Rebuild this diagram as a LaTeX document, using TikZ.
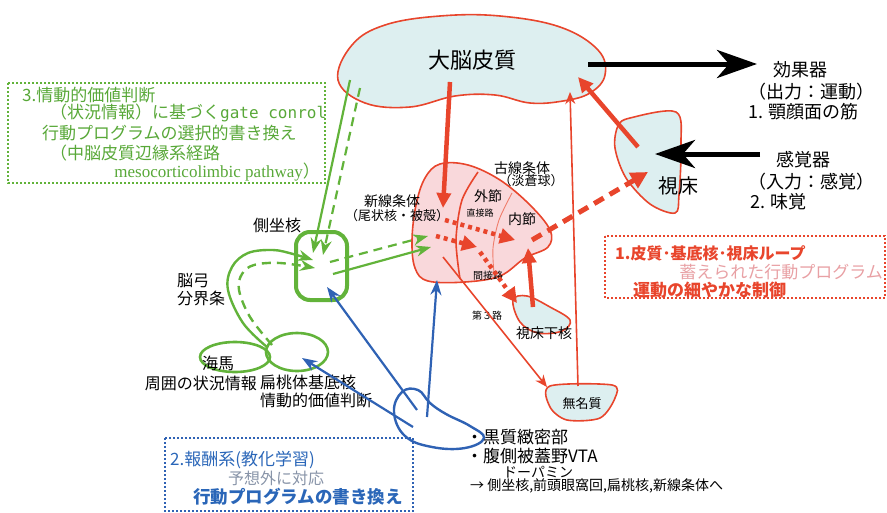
\documentclass[tikz,border=0pt]{standalone}
\usepackage{fontspec}
\setmainfont{Noto Sans CJK JP}
\newfontfamily\latinserif{Liberation Serif}
\setmonofont{DejaVu Sans Mono}
\usetikzlibrary{arrows.meta}
\definecolor{redc}{HTML}{E8452C}
\definecolor{palered}{HTML}{E8A0A4}
\definecolor{greenc}{HTML}{62B33A}
\definecolor{greentxt}{HTML}{58A838}
\definecolor{bluec}{HTML}{2F62B4}
\definecolor{bluetxt}{HTML}{2A66B8}
\definecolor{grayblue}{HTML}{8894A8}
\definecolor{paleblue}{HTML}{DDEFF0}
\definecolor{palepink}{HTML}{F9D8DB}
\newcommand{\fsz}[1]{\fontsize{#1}{#1}\selectfont}

\begin{document}
\begin{tikzpicture}[x=1pt,y=-1pt,
  lbl/.style={inner sep=0pt},
  blob/.style={draw=redc,line width=1.6pt,fill=paleblue},
  bigarrow/.style={line width=5pt,-{Stealth[length=40pt,width=28pt,inset=12pt]}},
  redthick/.style={redc,line width=4.5pt,-{Triangle[length=15pt,width=14pt]}},
  redthin/.style={redc,line width=1.6pt,-{Stealth[length=12pt,width=10pt]}},
  reddots/.style={redc,line width=4.5pt,dash pattern=on 4pt off 4pt,-{Triangle[length=15pt,width=15pt]}},
  reddash/.style={redc,line width=5pt,dash pattern=on 11pt off 7pt,-{Triangle[length=17pt,width=17pt]}},
  greenarrow/.style={greenc,line width=2.2pt,-{Stealth[length=15pt,width=11pt]}},
  greendash/.style={greenarrow,dash pattern=on 9pt off 6pt},
  bluearrow/.style={bluec,line width=2.2pt,-{Stealth[length=15pt,width=11pt]}},
  dotbox/.style={line width=2pt,dash pattern=on 2pt off 2pt}]
\useasboundingbox (0,0) rectangle (887,512);

% cortex, thalamus and the other red outlined bodies
\draw[blob] plot[smooth cycle,tension=0.65] coordinates {(338,80) (352,45) (385,25) (440,16) (500,16) (560,27) (598,50) (605,75) (590,93) (563,101) (530,103) (495,95) (455,96) (410,107) (365,103)};
\draw[blob] plot[smooth cycle,tension=0.55] coordinates {(630,118) (676,112) (681,145) (679,195) (675,213) (650,204) (626,178) (615,148) (618,126)};
\draw[blob] plot[smooth cycle,tension=0.6] coordinates {(513,300) (527,296) (550,307) (570,320) (562,331) (538,333) (520,322)};
\draw[blob] plot[smooth cycle,tension=0.5] coordinates {(550,386) (612,385) (615,398) (600,418) (567,420) (550,407)};
\draw[blob,fill=palepink] plot[smooth cycle,tension=0.6] coordinates {(440,164) (468,165) (500,180) (530,205) (550,230) (548,247) (525,258) (500,276) (465,282) (428,281) (415,268) (412,240) (416,205) (425,178)};
\draw[redc,line width=1.6pt] plot[smooth] coordinates {(478,172) (462,200) (456,240) (460,279)};
\draw[redc!70,line width=0.9pt] plot[smooth] coordinates {(512,193) (499,220) (493,248) (494,273)};

% green bodies
\draw[greenc,line width=4pt,rounded corners=14pt] (296,232) rectangle (347,300);
\draw[greenc,line width=2.6pt] (235,357) ellipse [x radius=35,y radius=15];
\draw[greenc,line width=2.6pt] (297,352) ellipse [x radius=31,y radius=19];

% blue loop
\draw[bluec,line width=2.4pt] plot[smooth cycle,tension=0.7] coordinates {(484,438) (465,448) (432,447) (405,436) (394,412) (402,392) (418,390) (430,403) (446,414) (470,426)};

% labels
\node[lbl] (cortex) at (472,60) {\fsz{22}大脳皮質};
\node[lbl] (thal) at (678,186) {\fsz{20}視床};
\node[lbl] (neo) at (392,201) {\fsz{14}新線条体};
\node[lbl] (neo2) at (397,216) {\fsz{13}（尾状核・被殻）};
\node[lbl] (paleo) at (522,168) {\fsz{14}古線条体};
\node[lbl] (paleo2) at (531,181) {\fsz{13}（淡蒼球）};
\node[lbl] (gpe) at (488,196) {\fsz{14}外節};
\node[lbl] (gpi) at (522,219) {\fsz{14}内節};
\node[lbl] (direct) at (480,213) {\fsz{9}直接路};
\node[lbl] (indirect) at (488,276) {\fsz{10}間接路};
\node[lbl] (third) at (487,316) {\fsz{10}第３路};
\node[lbl] (stn) at (544,333) {\fsz{14}視床下核};
\node[lbl] (innom) at (582,404) {\fsz{13}無名質};
\node[lbl] (acc) at (277,225) {\fsz{16}側坐核};
\node[lbl,anchor=west] (fornix) at (177,281) {\fsz{16}脳弓};
\node[lbl,anchor=west] (stria) at (177,298) {\fsz{16}分界条};
\node[lbl] (hippo) at (218,363) {\fsz{16}海馬};
\node[lbl,anchor=east] (hippo2) at (257,383) {\fsz{16}周囲の状況情報};
\node[lbl,anchor=west] (amyg) at (260,382) {\fsz{16}扁桃体基底核};
\node[lbl,anchor=west] (amyg2) at (260,400) {\fsz{16}情動的価値判断};

\node[lbl] (eff) at (800,70) {\fsz{18}効果器};
\node[lbl,anchor=west] (eff2) at (748,92) {\fsz{18}（出力：運動）};
\node[lbl,anchor=west] (eff3) at (748,112) {\fsz{18}1. 顎顔面の筋};
\node[lbl] (sens) at (803,160) {\fsz{18}感覚器};
\node[lbl,anchor=west] (sens2) at (748,182) {\fsz{18}（入力：感覚）};
\node[lbl,anchor=west] (sens3) at (750,202) {\fsz{18}2. 味覚};

\node[lbl,anchor=west] (vta1) at (466,437) {\fsz{17}・黒質緻密部};
\node[lbl,anchor=west] (vta2) at (466,456) {\fsz{17}・腹側被蓋野VTA};
\node[lbl,anchor=west] (da) at (503,472) {\fsz{14}ドーパミン};
\node[lbl,anchor=west] (proj) at (470,486) {\fsz{14}→ 側坐核,前頭眼窩回,扁桃核,新線条体へ};

% boxes
\draw[dotbox,greenc] (8,83) rectangle (325,183);
\node[lbl,anchor=west,text=greentxt] (g1) at (22,95) {\fsz{17}3.情動的価値判断};
\node[lbl,anchor=west,text=greentxt] (g2) at (50,113) {\fsz{17}（状況情報）に基づく\ttfamily\fsz{16}gate conrol};
\node[lbl,anchor=west,text=greentxt] (g3) at (42,133) {\fsz{17}行動プログラムの選択的書き換え};
\node[lbl,anchor=west,text=greentxt] (g4) at (50,153) {\fsz{17}（中脳皮質辺縁系経路};
\node[lbl,anchor=east,text=greentxt] (g5) at (320,172) {\latinserif\fsz{17}mesocorticolimbic pathway\normalfont）};

\draw[dotbox,redc] (605,236) rectangle (885,298);
\node[lbl,anchor=west,text=redc] (r1) at (615,253) {\fsz{16}\bfseries 1.皮質･基底核･視床ループ};
\node[lbl,anchor=east,text=palered] (r2) at (883,272) {\fsz{17}蓄えられた行動プログラム};
\node[lbl,anchor=west,text=redc] (r3) at (633,290) {\fsz{17}\bfseries 運動の細やかな制御};

\draw[dotbox,bluec] (165,438) rectangle (413,511);
\node[lbl,anchor=west,text=bluetxt] (b1) at (170,460) {\fsz{17}2.報酬系(教化学習)};
\node[lbl,anchor=west,text=grayblue] (b2) at (228,478) {\fsz{16}予想外に対応};
\node[lbl,anchor=west,text=bluetxt] (b3) at (193,497) {\fsz{17.5}\bfseries 行動プログラムの書き換え};

% connector ends
\coordinate (ctxR) at (588,64);
\coordinate (effL) at (757,64);
\coordinate (sensR) at (760,154);
\coordinate (thalL) at (655,154);
\coordinate (thalU) at (638,147);
\coordinate (ctxRB) at (578,77);
\coordinate (innomT) at (578,386);
\coordinate (ctxB) at (570,92);
\coordinate (ctxD) at (450,82);
\coordinate (strU) at (443,208);
\coordinate (strL) at (445,220);
\coordinate (gpiL) at (515,240);
\coordinate (strL2) at (436,236);
\coordinate (gpeL) at (477,247);
\coordinate (gpeB) at (480,252);
\coordinate (stnT) at (517,303);
\coordinate (stnU) at (533,307);
\coordinate (gpiB) at (528,248);
\coordinate (gpiR) at (532,240);
\coordinate (thalB) at (648,172);
\coordinate (strB) at (443,257);
\coordinate (innomL) at (547,387);
\coordinate (ctxG1) at (350,80);
\coordinate (accG1) at (313,253);
\coordinate (ctxG2) at (360,88);
\coordinate (accG2) at (323,255);
\coordinate (accR1) at (330,262);
\coordinate (strG1) at (428,236);
\coordinate (accR2) at (333,274);
\coordinate (strG2) at (431,247);
\coordinate (vtaA) at (417,410);
\coordinate (accB) at (327,287);
\coordinate (vtaB) at (413,427);
\coordinate (amygR) at (302,358);
\coordinate (vtaC) at (427,417);
\coordinate (strB2) at (437,280);

% black in/out
\draw[bigarrow] (ctxR) -- (effL);
\draw[bigarrow] (sensR) -- (thalL);

% red loop
\draw[redthick] (thalU) -- (ctxRB);
\draw[redthin] (innomT) -- (ctxB);
\draw[redthick] (ctxD) -- (strU);
\draw[reddots] (strL) -- (gpiL);
\draw[reddots] (strL2) -- (gpeL);
\draw[reddots] (gpeB) -- (stnT);
\draw[redthick] (stnU) -- (gpiB);
\draw[reddash] (gpiR) -- (thalB);
\draw[redthin] (strB) -- (innomL);

% green
\draw[greenarrow] (ctxG1) -- (accG1);
\draw[greendash] (ctxG2) -- (accG2);
\draw[greendash] (accR1) -- (strG1);
\draw[greenarrow] (accR2) -- (strG2);
\draw[greenc,line width=2.4pt,-{Stealth[length=15pt,width=11pt]}] plot[smooth,tension=0.6] coordinates {(267,347) (243,323) (228,290) (232,267) (248,253) (273,250) (293,254) (313,260)};
\draw[greendash,line width=2.4pt] plot[smooth,tension=0.6] coordinates {(272,345) (250,317) (239,290) (242,274) (254,265) (280,263) (315,268)};

% blue
\draw[bluearrow] (vtaA) -- (accB);
\draw[bluearrow] (vtaB) -- (amygR);
\draw[bluearrow] (vtaC) -- (strB2);
\end{tikzpicture}
\end{document}
